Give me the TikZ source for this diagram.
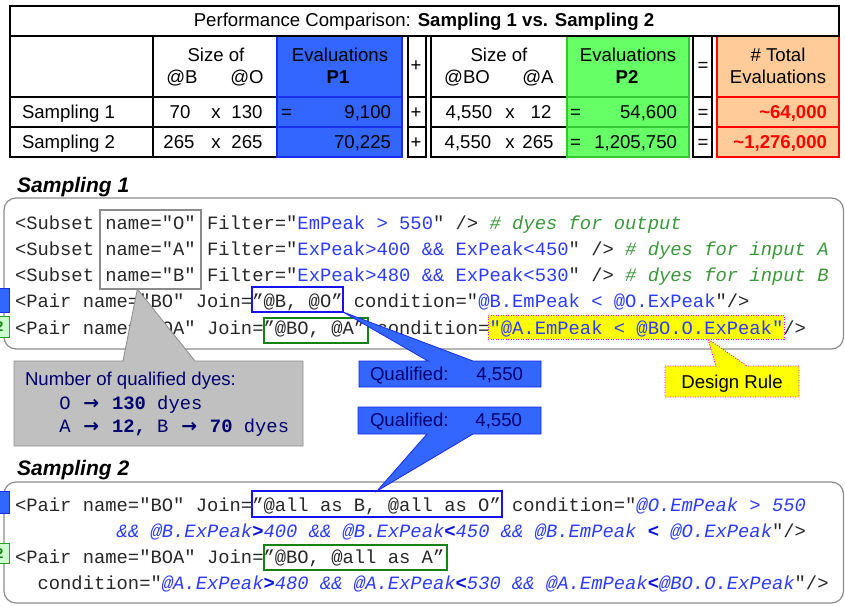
\documentclass[tikz,border=0pt]{standalone}
\usepackage{fontspec}
\setmainfont{Liberation Sans}
\setmonofont{Liberation Mono}
\newfontfamily\arrowfont{DejaVu Sans}
\usetikzlibrary{calc}

\definecolor{pblue}{RGB}{51,102,255}
\definecolor{pblueline}{RGB}{25,45,235}
\definecolor{pgreen}{RGB}{102,255,102}
\definecolor{pgreenline}{RGB}{51,200,51}
\definecolor{porange}{RGB}{255,204,153}
\definecolor{tred}{RGB}{255,0,0}
\definecolor{codeblack}{RGB}{40,40,40}
\definecolor{codeblue}{RGB}{45,60,255}
\definecolor{opblue}{RGB}{10,20,220}
\definecolor{codegreen}{RGB}{60,150,60}
\definecolor{navy}{RGB}{0,0,110}
\definecolor{boxgrey}{RGB}{192,192,192}
\definecolor{edgegrey}{RGB}{140,140,140}
\definecolor{hiyellow}{RGB}{255,255,0}
\definecolor{magentaline}{RGB}{255,0,255}
\definecolor{markgreen}{RGB}{204,255,204}
\definecolor{joingreen}{RGB}{20,130,20}
\definecolor{joinblue}{RGB}{20,20,235}

% code colouring helpers
\newcommand\codeval[1]{{\color{codeblue}#1}}
\newcommand\codecmt[1]{{\color{codegreen}\itshape #1}}
\newcommand\codeexpr[1]{{\color{codeblue}\itshape #1}}
\newcommand\codeop[1]{{\color{opblue}\upshape\bfseries #1}}
\newcommand\qarrow{\makebox[18.83pt]{\arrowfont\bfseries →}}

\tikzset{
  tline/.style={draw=black, line width=1.3pt},
  tx/.style={font=\fontsize{18.6}{22}\selectfont, inner sep=0pt, outer sep=0pt, anchor=base},
  txw/.style={tx, anchor=base west},
  txe/.style={tx, anchor=base east},
  redtot/.style={txe, text=tred, font=\fontsize{18.6}{22}\selectfont\bfseries},
  heading/.style={font=\fontsize{21}{24}\selectfont\bfseries\itshape, inner sep=0pt, anchor=base west},
  code/.style={font=\ttfamily\fontsize{18.83}{22}\selectfont, text=codeblack, inner sep=0pt, outer sep=0pt, anchor=base west},
  codebox/.style={draw=edgegrey, line width=1.2pt, rounded corners=12pt},
  markbox/.style={anchor=north west, inner sep=0pt, outer sep=0pt},
  bluecall/.style={fill=pblue, draw=pblueline, line width=0.8pt},
  greycall/.style={fill=boxgrey, draw=edgegrey, line width=0.8pt},
  yellowcall/.style={fill=hiyellow, draw=magentaline, line width=0.9pt, dash pattern=on 1pt off 1.5pt},
  calltext/.style={tx, text=navy},
}

\begin{document}
\begin{tikzpicture}[x=1pt,y=-1pt]
\useasboundingbox (0,0) rectangle (845,607);
\fill[white] (0,0) rectangle (845,607);
\clip (0,0) rectangle (845,607);

% ---------- comparison table ----------
\fill[pblue] (277,36) rectangle (402,157);
\draw[tline] (10,36) rectangle (277,157);
\draw[tline] (153,36) -- (153,157);
\draw[tline] (10,97) -- (277,97);
\draw[tline] (10,127) -- (277,127);
\draw[pblueline, line width=1.3pt] (277,36) rectangle (402,157);
\draw[pblueline, line width=1.3pt] (277,97) -- (402,97) (277,127) -- (402,127);

\draw[tline] (408,36) rectangle (426,157);
\draw[tline] (408,97) -- (426,97) (408,127) -- (426,127);

\fill[pgreen] (567,36) rectangle (689,157);
\draw[tline] (431,36) rectangle (567,157);
\draw[tline] (431,97) -- (567,97) (431,127) -- (567,127);
\draw[pgreenline, line width=1.3pt] (567,36) rectangle (689,157);
\draw[pgreenline, line width=1.3pt] (567,97) -- (689,97) (567,127) -- (689,127);

\draw[tline] (693,36) rectangle (712,157);
\draw[tline] (693,97) -- (712,97) (693,127) -- (712,127);

\fill[porange] (717,36) rectangle (839,157);
\draw[tred, line width=1.3pt] (717,36) rectangle (839,157);
\draw[tred, line width=1.3pt] (717,97) -- (839,97) (717,127) -- (839,127);

\draw[tline] (10,6) rectangle (839,36);

\node[tx] (t-title) at (424,27) {Performance Comparison: \textbf{Sampling 1 vs. Sampling 2}};

\node[tx] (h-size1) at (216,62) {Size of};
\node[tx] (h-b) at (182,84) {@B};
\node[tx] (h-o) at (247,84) {@O};
\node[tx] (h-ev1) at (340,62) {Evaluations};
\node[tx] (h-p1) at (338,84) {\textbf{P1}};
\node[tx] (h-plus) at (416,72) {+};
\node[tx] (h-size2) at (499,62) {Size of};
\node[tx] (h-bo) at (467,84) {@BO};
\node[tx] (h-a) at (538,84) {@A};
\node[tx] (h-ev2) at (628,62) {Evaluations};
\node[tx] (h-p2) at (627,84) {\textbf{P2}};
\node[tx] (h-eq) at (703,72) {=};
\node[tx] (h-total) at (778,62) {\# Total};
\node[tx] (h-ev3) at (778,84) {Evaluations};

\node[txw] (r1-name) at (22,118.6) {Sampling 1};
\node[tx] (r1-b) at (180,118.6) {70};
\node[tx] (r1-x) at (216,118.6) {x};
\node[tx] (r1-o) at (247,118.6) {130};
\node[txw] (r1-eq1) at (281,118.6) {=};
\node[txe] (r1-p1) at (391,118.6) {9,100};
\node[tx] (r1-plus) at (416,118.6) {+};
\node[tx] (r1-bo) at (469,118.6) {4,550};
\node[tx] (r1-x2) at (510,118.6) {x};
\node[tx] (r1-a) at (541,118.6) {12};
\node[txw] (r1-eq2) at (570,118.6) {=};
\node[txe] (r1-p2) at (677,118.6) {54,600};
\node[tx] (r1-eq3) at (703,118.6) {=};
\node[redtot] (r1-tot) at (827,118.6) {\textasciitilde 64,000};

\node[txw] (r2-name) at (22,148.3) {Sampling 2};
\node[tx] (r2-b) at (179,148.3) {265};
\node[tx] (r2-x) at (216,148.3) {x};
\node[tx] (r2-o) at (247,148.3) {265};
\node[txe] (r2-p1) at (391,148.3) {70,225};
\node[tx] (r2-plus) at (416,148.3) {+};
\node[tx] (r2-bo) at (468,148.3) {4,550};
\node[tx] (r2-x2) at (510,148.3) {x};
\node[tx] (r2-a) at (538,148.3) {265};
\node[txw] (r2-eq2) at (570,148.3) {=};
\node[txe] (r2-p2) at (677,148.3) {1,205,750};
\node[tx] (r2-eq3) at (703,148.3) {=};
\node[redtot] (r2-tot) at (827,148.3) {\textasciitilde 1,276,000};

% ---------- Sampling 1 ----------
\node[heading] (s1-head) at (17,192) {Sampling 1};
\draw[codebox] (4,198) rectangle (843.5,349);

\fill[pblue] (-10,288) rectangle (9,312);
\draw[pblueline, line width=0.8pt] (-10,288) rectangle (9,312);
\filldraw[fill=markgreen, draw=pgreenline!80!black, line width=0.8pt] (-10,316) rectangle (9,337);
\node[tx, anchor=base east, text=joingreen, font=\fontsize{14}{16}\selectfont\bfseries] (m1-two) at (3.5,331) {2};

\node[markbox, fill=hiyellow, draw=magentaline, line width=0.9pt, dash pattern=on 1pt off 1.5pt,
      minimum width=296pt, minimum height=24pt] (hilite) at (488,315) {};

\node[code] (c1-l1) at (15,229) {<Subset name="O" Filter="\codeval{EmPeak > 550}" /> \codecmt{\# dyes for output}};
\node[code] (c1-l2) at (15,255.3) {<Subset name="A" Filter="\codeval{ExPeak>400 \&\& ExPeak<450}" /> \codecmt{\# dyes for input A}};
\node[code] (c1-l3) at (15,281.6) {<Subset name="B" Filter="\codeval{ExPeak>480 \&\& ExPeak<530}" /> \codecmt{\# dyes for input B}};
\node[code] (c1-l4) at (15,307.9) {<Pair name="BO" Join=”@B, @O” condition="\codeval{@B.EmPeak < @O.ExPeak}"/>};
\node[code] (c1-l5) at (15,334.2) {<Pair name="BOA" Join=”@BO, @A” condition=\codeval{"@A.EmPeak < @BO.O.ExPeak"}/>};

\node[markbox, draw=edgegrey, line width=1.5pt, minimum width=101pt, minimum height=79pt] (namebox) at (100,210) {};
\node[markbox, draw=joinblue, line width=1.3pt, minimum width=91pt, minimum height=25pt] (join1) at (252,287) {};
\node[markbox, draw=joingreen, line width=1.3pt, minimum width=104pt, minimum height=25pt] (join2) at (264,318) {};

% ---------- Sampling 2 ----------
\node[heading] (s2-head) at (17,475) {Sampling 2};
\draw[codebox] (4,482) rectangle (843.5,603);

\fill[pblue] (-10,491) rectangle (9,513);
\draw[pblueline, line width=0.8pt] (-10,491) rectangle (9,513);
\filldraw[fill=markgreen, draw=pgreenline!80!black, line width=0.8pt] (-10,543) rectangle (9,563);
\node[tx, anchor=base east, text=joingreen, font=\fontsize{14}{16}\selectfont\bfseries] (m2-two) at (3.5,558) {2};

\node[code] (c2-l1) at (15,511) {<Pair name="BO" Join=”@all as B, @all as O” condition="\codeexpr{@O.EmPeak > 550}};
\node[code] (c2-l2) at (116.7,537) {\codeexpr{\&\& @B.ExPeak\codeop{>}400 \&\& @B.ExPeak\codeop{<}450 \&\& @B.EmPeak \codeop{<} @O.ExPeak}"/>};
\node[code] (c2-l3) at (15,563) {<Pair name="BOA" Join=”@BO, @all as A”};
\node[code] (c2-l4) at (37.6,589) {condition="\codeexpr{@A.ExPeak\codeop{>}480 \&\& @A.ExPeak\codeop{<}530 \&\& @A.EmPeak\codeop{<}@BO.O.ExPeak}"/>};

\node[markbox, draw=joinblue, line width=1.3pt, minimum width=250pt, minimum height=26pt] (join3) at (252,491) {};
\node[markbox, draw=joingreen, line width=1.3pt, minimum width=183pt, minimum height=25pt] (join4) at (264,545) {};

% ---------- callouts ----------
\draw[greycall] (14,361) -- (123,361) -- ($(namebox.south west)!0.37!(namebox.south east)$)
  -- (195,361) -- (303,361) -- (303,446) -- (14,446) -- cycle;
\node[calltext, anchor=base west] (dyes-title) at (25,385.5) {Number of qualified dyes:};
\node[calltext, anchor=base west, font=\ttfamily\fontsize{18.83}{22}\selectfont] (dyes-o) at (59.3,409)
  {O \qarrow{} \textbf{130} dyes};
\node[calltext, anchor=base west, font=\ttfamily\fontsize{18.83}{22}\selectfont] (dyes-ab) at (59.3,432.7)
  {A \qarrow{} \textbf{12,} B \qarrow{} \textbf{70} dyes};

\draw[bluecall] (359,361) -- (428,361) -- (join1.south east) -- (473,361) -- (541,361)
  -- (541,387) -- (359,387) -- cycle;
\node[calltext, anchor=base west] (q1-label) at (370,380) {Qualified:};
\node[calltext, anchor=base east] (q1-value) at (523,380) {4,550};

\draw[bluecall] (358,407) -- (541,407) -- (541,434) -- (473,434) -- (join3.north)
  -- (427,434) -- (358,434) -- cycle;
\node[calltext, anchor=base west] (q2-label) at (370,426) {Qualified:};
\node[calltext, anchor=base east] (q2-value) at (522,426) {4,550};

\draw[yellowcall] (665,366) -- (716,366) -- ($(hilite.south west)!0.743!(hilite.south east)$)
  -- (747,366) -- (799,366) -- (799,397) -- (665,397) -- cycle;
\node[tx] (rule) at (732,388) {Design Rule};
\end{tikzpicture}
\end{document}
